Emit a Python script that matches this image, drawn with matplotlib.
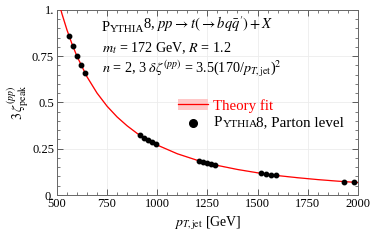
#!/usr/bin/env python
# -*- coding: utf-8 -*-

# Peak position vs jet pT, Pythia8 parton level + theory fit

import matplotlib as mpl
mpl.use('Agg')
import matplotlib.pyplot as plt
from matplotlib.ticker import MultipleLocator, FixedLocator, FixedFormatter
from matplotlib.lines import Line2D
from matplotlib.patches import Patch

# Data
pt_fit = [500, 525, 550, 575, 600, 650, 700, 750, 800, 850, 900, 950, 1000,
          1100, 1200, 1300, 1400, 1500, 1600, 1700, 1800, 1900, 2000]
zeta_fit = [1.08, 0.98, 0.893, 0.817, 0.75, 0.639, 0.551, 0.48, 0.422, 0.374,
            0.333, 0.299, 0.27, 0.223, 0.1875, 0.16, 0.138, 0.12, 0.105,
            0.0934, 0.0833, 0.0748, 0.0675]
pt_mc = [560, 580, 600, 620, 640,
         915, 935, 955, 975, 995,
         1210, 1230, 1250, 1270, 1290,
         1515, 1540, 1565, 1590,
         1930, 1980]
zeta_mc = [0.861, 0.803, 0.75, 0.702, 0.659,
           0.322, 0.309, 0.296, 0.284, 0.273,
           0.184, 0.178, 0.173, 0.167, 0.162,
           0.118, 0.114, 0.110, 0.107,
           0.0725, 0.0689]
yticks = [0, 0.25, 0.5, 0.75, 1.0]
ytick_labels = ['0.', '0.25', '0.5', '0.75', '1.']

mpl.rcParams['font.family'] = 'Liberation Serif'
mpl.rcParams['mathtext.fontset'] = 'stix'

fig = plt.figure(figsize=(3.74, 2.4), dpi=100)
ax = fig.add_axes((0.152, 0.1875, 0.805, 0.771))

band_lo = [z * 0.99 for z in zeta_fit]
band_hi = [z * 1.01 for z in zeta_fit]
ax.fill_between(pt_fit, band_lo, band_hi, color='#ffc8c8', lw=0, zorder=2)
ax.plot(pt_fit, zeta_fit, color='red', lw=0.9, zorder=3)
ax.plot(pt_mc, zeta_mc, 'o', color='black', ms=3.2, zorder=4)

ax.set_xlim(500, 2000)
ax.set_ylim(0, 1)
ax.xaxis.set_major_locator(MultipleLocator(250))
ax.xaxis.set_minor_locator(MultipleLocator(50))
ax.yaxis.set_major_locator(FixedLocator(yticks))
ax.yaxis.set_major_formatter(FixedFormatter(ytick_labels))
ax.yaxis.set_minor_locator(MultipleLocator(0.05))
ax.tick_params(which='both', direction='in', top=True, right=True,
               labelsize=9, pad=2, color='#444444')
ax.tick_params(which='major', length=4.5, width=0.6)
ax.tick_params(which='minor', length=2.5, width=0.5)
for s in ax.spines.values():
    s.set_color('#666666')
    s.set_linewidth(0.7)
ax.grid(True, which='major', color='#ececec', lw=0.6, zorder=0)

ax.set_xlabel(r'$p_{T,\mathrm{jet}}$ [GeV]', fontsize=10, labelpad=3)
ax.set_ylabel(r'$3\,\zeta_{\mathrm{peak}}^{(pp)}$', fontsize=10, labelpad=1)


def pythia_text(x, y, rest, size=10.5):
    # "Pythia" in small capitals, then the rest of the string
    p = ax.text(x, y, 'P', transform=ax.transAxes, fontsize=size,
                va='baseline')
    s = ax.annotate('YTHIA', xy=(1, 0), xycoords=p, fontsize=size * 0.76,
                    va='bottom')
    ax.annotate(rest, xy=(1, 0), xycoords=s, xytext=(-1.2, 0),
                textcoords='offset points', fontsize=size, va='bottom')


pythia_text(0.150, 0.886,
            r'8, $pp \rightarrow t(\rightarrow bq\bar{q}^{\prime}) + X$')
ax.text(0.150, 0.772, r'$m_t$ = 172 GeV, $R$ = 1.2', transform=ax.transAxes,
        fontsize=10.2, va='baseline')
ax.text(0.150, 0.658,
        r'$n$ = 2, 3 $\delta\zeta^{(pp)}$ = 3.5(170/$p_{T,\mathrm{jet}}$)$^2$',
        transform=ax.transAxes, fontsize=10.2, va='baseline')

handles = [(Patch(facecolor='#ffc8c8', edgecolor='none'),
            Line2D([], [], color='red', lw=0.9)),
           Line2D([], [], marker='o', ls='none', color='black', ms=5.5)]
leg = ax.legend(handles, ['Theory fit', ' '],
                loc='upper left', bbox_to_anchor=(0.377, 0.56), frameon=False,
                fontsize=10.7, handlelength=2.0, handletextpad=0.35,
                labelspacing=0.35, borderpad=0)
leg.get_texts()[0].set_color('red')
pythia_text(0.522, 0.372, '8, Parton level', size=10.8)

plt.savefig('out.png', dpi=100)
